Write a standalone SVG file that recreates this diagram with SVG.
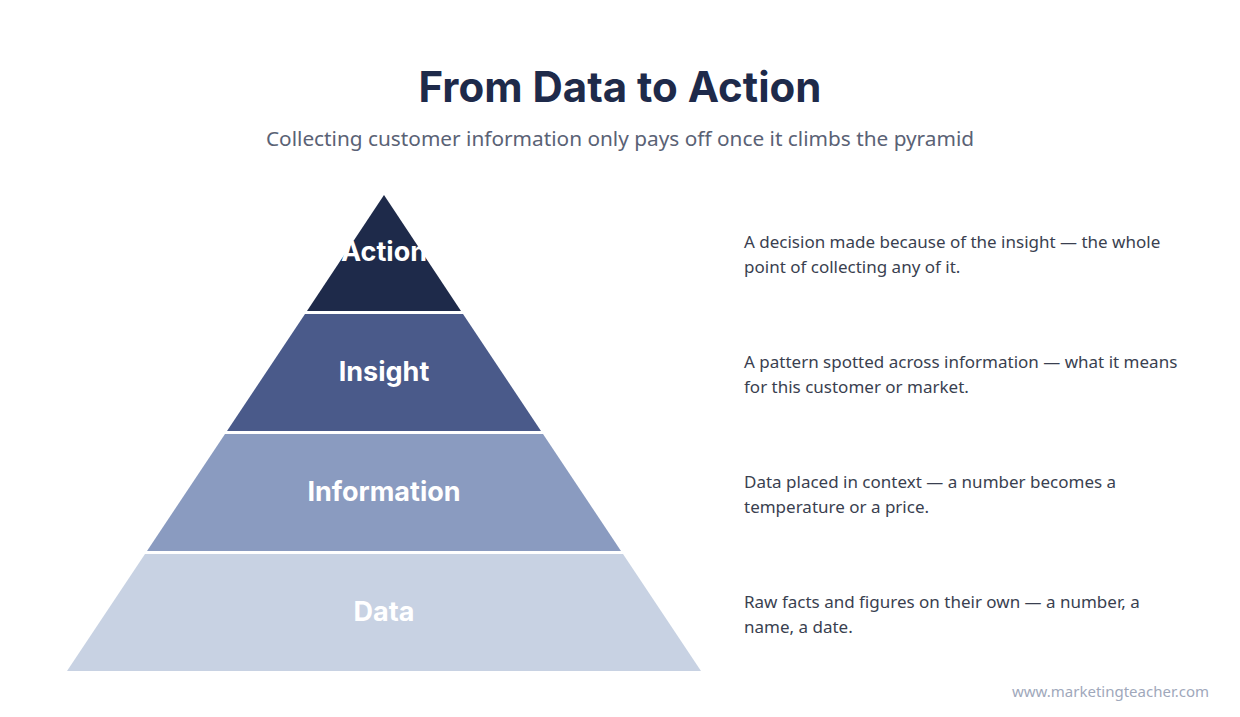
<svg xmlns="http://www.w3.org/2000/svg" width="1240" height="717" viewBox="0 0 1240 717">
<style>
.t{font-family:Inter,"Noto Sans",sans-serif;font-weight:700;font-size:42px;fill:#1e2a4a}
.s{font-family:"Noto Sans","Open Sans",sans-serif;font-size:20.8px;fill:#5a6275}
.l{font-family:Inter,"Noto Sans",sans-serif;font-weight:700;font-size:27px;fill:#ffffff;text-anchor:middle}
.d{font-family:"Noto Sans","Open Sans",sans-serif;font-size:17px;fill:#3a3f50}
.f{font-family:"Noto Sans","Open Sans",sans-serif;font-size:15px;fill:#a0a8bb}
</style>
<rect width="1240" height="717" fill="#ffffff"/>
<text class="t" x="620" y="102" text-anchor="middle">From Data to Action</text>
<text class="s" x="620" y="146" text-anchor="middle">Collecting customer information only pays off once it climbs the pyramid</text>
<g id="action"><polygon points="384,195 461,311 307,311" fill="#1e2a4a"/><text class="l" x="384" y="261">Action</text>
<text class="d" x="744" y="248">A decision made because of the insight — the whole</text><text class="d" x="744" y="273">point of collecting any of it.</text></g>
<g id="insight"><polygon points="305,314 463,314 541,431 227,431" fill="#4a5a8a"/><text class="l" x="384" y="381">Insight</text>
<text class="d" x="744" y="368">A pattern spotted across information — what it means</text><text class="d" x="744" y="393">for this customer or market.</text></g>
<g id="information"><polygon points="225,434 543,434 621,551 147,551" fill="#8a9bc0"/><text class="l" x="384" y="501">Information</text>
<text class="d" x="744" y="488">Data placed in context — a number becomes a</text><text class="d" x="744" y="513">temperature or a price.</text></g>
<g id="data"><polygon points="145,554 623,554 701,671 67,671" fill="#c8d2e3"/><text class="l" x="384" y="621">Data</text>
<text class="d" x="744" y="608">Raw facts and figures on their own — a number, a</text><text class="d" x="744" y="633">name, a date.</text></g>
<g id="connectors"/>
<text class="f" x="1209" y="697" text-anchor="end">www.marketingteacher.com</text>
</svg>
